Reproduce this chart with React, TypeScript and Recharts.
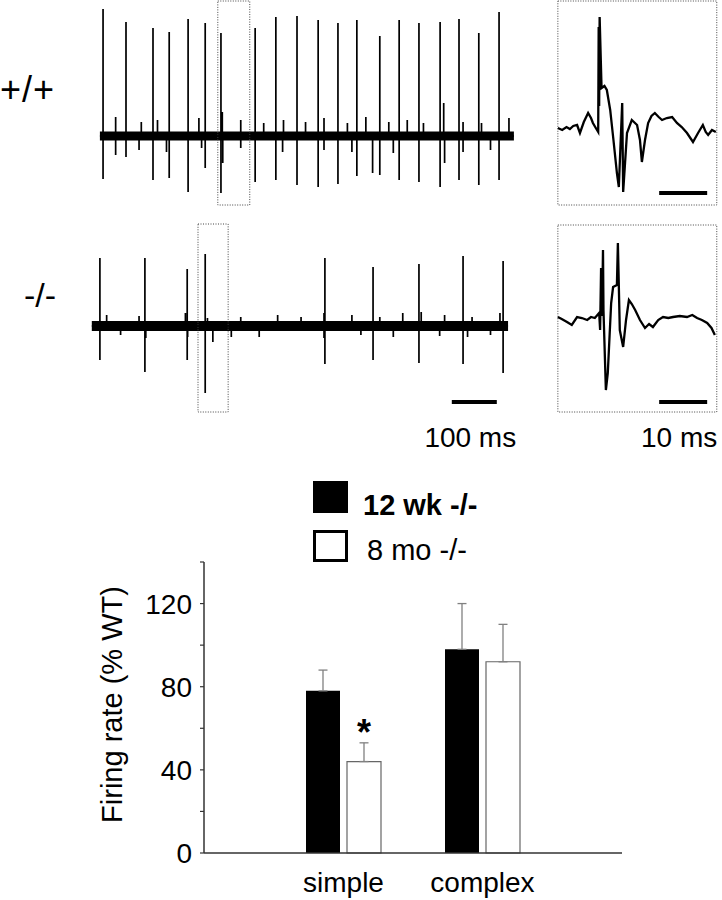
import React from "react";
import {
  ComposedChart,
  BarChart,
  Bar,
  Line,
  Area,
  XAxis,
  YAxis,
  ErrorBar,
  LabelList,
  Legend,
  ReferenceArea,
  ReferenceLine,
} from "recharts";

const FONT = '"Liberation Sans", Arial, Helvetica, sans-serif';

// ---- recordings (t in ms, amplitude in arbitrary units, baseline = 0) ----
// spike trains: [t, up, down]
const wtSpikes: number[][] = [
  [29, 127, 43], [80, 114, 21], [140, 108, 44], [176, 104, 42], [218, 117, 56],
  [256, 113, 32], [291, 103, 57], [367, 108, 46], [413, 119, 44], [460, 120, 49],
  [507, 116, 51], [551, 113, 48], [593, 116, 40], [644, 100, 39], [687, 116, 44],
  [731, 113, 46], [778, 114, 51], [820, 117, 44], [864, 103, 49], [909, 124, 44],
];
const wtNoiseUp: number[][] = [
  [57, 19], [114, 14], [150, 16], [242, 18], [294, 24], [335, 16], [386, 13],
  [430, 16], [479, 14], [520, 18], [572, 13], [613, 19], [664, 14], [705, 16],
  [741, 13], [786, 33], [829, 14], [870, 13], [931, 18],
];
const wtNoiseDown: number[][] = [
  [57, 19], [109, 14], [170, 16], [248, 12], [295, 27], [335, 12], [428, 16],
  [520, 14], [582, 16], [628, 37], [674, 17], [788, 27], [829, 16], [890, 14],
];
const wtRange = [22, 942];

const koSpikes: number[][] = [
  [22, 68, 34], [122, 68, 46], [216, 57, 34], [256, 72, 67], [522, 68, 38],
  [629, 59, 34], [731, 62, 37], [829, 70, 38], [918, 65, 47],
];
const koNoiseUp: number[][] = [
  [37, 11], [109, 10], [212, 13], [261, 8], [335, 9], [417, 11], [469, 9],
  [520, 13], [582, 11], [644, 9], [695, 13], [736, 14], [788, 11], [849, 9], [911, 13],
];
const koNoiseDown: number[][] = [
  [68, 9], [124, 12], [217, 11], [273, 16], [314, 11], [376, 11], [520, 12],
  [602, 9], [674, 11], [777, 10], [839, 11], [890, 9],
];
const koRange = [4, 929];

// single spike waveforms: [t, v]
const wtWave: number[][] = [
  [0.6, 8], [1.5, 6], [2.4, 9], [3.1, 7], [3.8, 10], [4.6, 11], [5.2, 3],
  [6.0, 14], [6.9, 23], [7.5, 18], [7.9, 13], [8.5, 8], [9.0, 4],
  [9.1, 109], [9.2, 30], [9.3, 119], [9.7, 48], [10.3, 50], [10.8, 46], [11.5, 26],
  [12.2, -5], [12.9, -37], [13.3, -51], [14.0, 33], [14.2, -56], [15.0, 3], [16.0, 16],
  [17.1, 11], [17.7, -4], [18.1, -26], [18.75, -4], [19.4, 13], [20.1, 20], [20.8, 23],
  [21.6, 19], [22.3, 16], [23.3, 18], [24.4, 19], [25.4, 13], [26.4, 9], [27.5, 3],
  [28.75, -6], [29.8, 3], [30.8, 11], [31.4, 4], [31.9, 1], [32.7, 6], [33.5, 4],
];
const koWave: number[][] = [
  [0.6, 9], [1.4, 7], [2.5, 4], [3.5, 1], [4.6, 9], [5.6, 8], [6.7, 6], [7.5, 9],
  [8.3, 8], [9.2, 13], [9.4, -4], [9.6, 58], [9.8, 10], [10.0, 76], [10.1, 16],
  [10.6, -64], [11.0, -47], [11.7, 23], [12.1, 39], [12.9, 41], [13.1, 83],
  [13.5, -4], [14.2, -21], [14.8, 6], [15.4, 26], [16.0, 22], [16.7, 16], [17.7, 6],
  [18.75, -2], [19.6, 2], [20.4, -1], [21.5, 6], [22.5, 9], [23.6, 8], [24.6, 9],
  [26.0, 10], [27.5, 9], [28.6, 11], [29.6, 8], [30.6, 6], [31.7, 3], [32.6, -2], [33.3, -9],
];

// ---- summary bars ----
const categories = ["simple", "complex"];
const young = [78, 98]; // 12 wk -/-
const youngErr = [10, 22];
const old = [44, 92]; // 8 mo -/-
const oldErr = [9, 18];
const sig = ["*", ""];
const yTicks = [0, 20, 40, 60, 80, 100, 120, 140];

const barData = categories.map((c, i) => ({
  cat: c,
  young: young[i],
  old: old[i],
  youngErr: [0, youngErr[i]],
  oldErr: [0, oldErr[i]],
  sig: sig[i],
}));

function buildTrace(range: number[], spikes: number[][], up: number[][], down: number[][]) {
  const ev = [
    ...spikes.map(([t, u, d]) => [t, u, d]),
    ...up.map(([t, u]) => [t, u, 0]),
    ...down.map(([t, d]) => [t, 0, d]),
  ].sort((a, b) => a[0] - b[0]);
  const pts: { t: number; v: number }[] = [{ t: range[0], v: 0 }];
  ev.forEach(([t, u, d]) => {
    pts.push({ t, v: 0 }, { t, v: u }, { t, v: -d }, { t, v: 0 });
  });
  pts.push({ t: range[1], v: 0 });
  return pts;
}

const toPts = (arr: number[][]) => arr.map(([t, v]) => ({ t, v }));

const dotted = { fill: "none", stroke: "#444", strokeWidth: 1, strokeDasharray: "1 1.5" };

function ScaleText(props: any) {
  const { viewBox, text } = props;
  if (!viewBox) return null;
  return (
    <text
      x={viewBox.x + viewBox.width / 2 - 4}
      y={viewBox.y + 45}
      textAnchor="middle"
      fontSize={28}
      fontFamily={FONT}
      fill="#000"
    >
      {text}
    </text>
  );
}

interface TraceProps {
  top: number;
  height: number;
  band: number;
  yDomain: number[];
  range: number[];
  spikes: number[][];
  up: number[][];
  down: number[][];
  box: number[];
  scaleBar?: number[];
}

function Trace({ top, height, band, yDomain, range, spikes, up, down, box, scaleBar }: TraceProps) {
  const pts = buildTrace(range, spikes, up, down);
  const bandData = [
    { t: range[0], band: [-band, band] },
    { t: range[1], band: [-band, band] },
  ];
  return (
    <div style={{ position: "absolute", left: 0, top }}>
      <ComposedChart width={545} height={height} margin={{ top: 0, right: 0, bottom: 0, left: 0 }}>
        <XAxis type="number" dataKey="t" domain={[-200, 1011.1]} hide allowDataOverflow />
        <YAxis type="number" domain={yDomain} hide allowDataOverflow />
        <Area
          data={bandData}
          dataKey="band"
          fill="#000"
          fillOpacity={1}
          stroke="none"
          dot={false}
          activeDot={false}
          isAnimationActive={false}
        />
        <Line
          data={pts}
          dataKey="v"
          type="linear"
          stroke="#000"
          strokeWidth={1.7}
          dot={false}
          activeDot={false}
          isAnimationActive={false}
        />
        <ReferenceArea x1={box[0]} x2={box[1]} y1={box[2]} y2={box[3]} ifOverflow="visible" {...dotted} />
        {scaleBar && (
          <ReferenceLine
            segment={[
              { x: scaleBar[0], y: scaleBar[2] },
              { x: scaleBar[1], y: scaleBar[2] },
            ]}
            stroke="#000"
            strokeWidth={4}
            label={<ScaleText text="100 ms" />}
          />
        )}
      </ComposedChart>
    </div>
  );
}

function Wave({ top, height, yDomain, wave, box, bar, label }: any) {
  return (
    <div style={{ position: "absolute", left: 550, top }}>
      <ComposedChart width={172} height={height} margin={{ top: 0, right: 0, bottom: 0, left: 0 }}>
        <XAxis type="number" dataKey="t" domain={[-1.04, 34.79]} hide allowDataOverflow />
        <YAxis type="number" domain={yDomain} hide allowDataOverflow />
        <Line
          data={toPts(wave)}
          dataKey="v"
          type="linear"
          stroke="#000"
          strokeWidth={2.3}
          dot={false}
          activeDot={false}
          isAnimationActive={false}
        />
        <ReferenceArea x1={box[0]} x2={box[1]} y1={box[2]} y2={box[3]} ifOverflow="visible" {...dotted} />
        <ReferenceLine
          segment={[
            { x: bar[0], y: bar[2] },
            { x: bar[1], y: bar[2] },
          ]}
          stroke="#000"
          strokeWidth={4}
          label={label ? <ScaleText text={label} /> : undefined}
        />
      </ComposedChart>
    </div>
  );
}

function YTick(props: any) {
  const { x, y, payload } = props;
  if (payload.value % 40 !== 0) return null;
  return (
    <text x={x} y={y} dy="0.36em" textAnchor="end" fontSize={28} fontFamily={FONT} fill="#000">
      {payload.value}
    </text>
  );
}

function Star(props: any) {
  const { x, y, width, height, value, index } = props;
  if (!value) return null;
  const errTop = y - (oldErr[index] * height) / old[index];
  return (
    <text x={x + width / 2} y={errTop + 2} textAnchor="middle" fontSize={36} fontWeight="bold" fontFamily={FONT} fill="#000">
      {value}
    </text>
  );
}

function LegendBox() {
  return (
    <svg width={230} height={90} style={{ display: "block" }}>
      <rect x={1} y={1} width={35} height={32} fill="#000" />
      <text x={51} y={35} fontSize={29} fontWeight="bold" fontFamily={FONT} fill="#000">
        12 wk -/-
      </text>
      <rect x={2.5} y={51.5} width={32} height={29} fill="#fff" stroke="#000" strokeWidth={3} />
      <text x={55} y={80} fontSize={29} fontFamily={FONT} fill="#000">
        8 mo -/-
      </text>
    </svg>
  );
}

function YLabel(props: any) {
  const { viewBox } = props;
  const cx = 122;
  const cy = viewBox.y + viewBox.height / 2 - 3;
  return (
    <text
      x={cx}
      y={cy}
      transform={`rotate(-90, ${cx}, ${cy})`}
      textAnchor="middle"
      fontSize={29}
      fontFamily={FONT}
      fill="#000"
    >
      Firing rate (% WT)
    </text>
  );
}

export default function App() {
  return (
    <div
      style={{
        position: "absolute",
        left: 0,
        top: 0,
        width: 722,
        height: 900,
        background: "#fff",
        fontFamily: FONT,
        overflow: "hidden",
      }}
    >
      <svg width={90} height={400} style={{ position: "absolute", left: 0, top: 0 }}>
        <text x={0} y={102} fontSize={36} letterSpacing={1} fontFamily={FONT} fill="#000">
          +/+
        </text>
        <text x={24} y={307} fontSize={34} fontFamily={FONT} fill="#000">
          -/-
        </text>
      </svg>

      <Trace
        top={-5}
        height={215}
        band={4.5}
        yDomain={[-74, 141]}
        range={wtRange}
        spikes={wtSpikes}
        up={wtNoiseUp}
        down={wtNoiseDown}
        box={[284, 355, -69, 135]}
      />
      <Trace
        top={215}
        height={240}
        band={5}
        yDomain={[-129, 111]}
        range={koRange}
        spikes={koSpikes}
        up={koNoiseUp}
        down={koNoiseDown}
        box={[240, 307, -86, 102]}
        scaleBar={[804, 904, -76]}
      />
      <Wave top={-5} height={215} yDomain={[-74, 141]} wave={wtWave} box={[0.6, 33.7, -69, 135]} bar={[21.7, 31.7, -57]} />
      <Wave
        top={215}
        height={240}
        yDomain={[-129, 111]}
        wave={koWave}
        box={[0.6, 33.7, -86, 101]}
        bar={[21.7, 31.7, -76]}
        label="10 ms"
      />

      <div style={{ position: "absolute", left: 0, top: 460 }}>
        <BarChart
          width={722}
          height={440}
          data={barData}
          barGap={7}
          margin={{ top: 102, right: 100, bottom: 7, left: 144 }}
        >
          <XAxis
            dataKey="cat"
            padding={{ left: 70, right: 70 }}
            tickLine={false}
            tickSize={0}
            tickMargin={19}
            height={40}
            axisLine={{ stroke: "#333", strokeWidth: 1.5 }}
            tick={{ fontSize: 28, fill: "#000", fontFamily: FONT }}
          />
          <YAxis
            width={60}
            domain={[0, 140]}
            ticks={yTicks}
            interval={0}
            tickSize={4}
            tickMargin={8}
            axisLine={{ stroke: "#333", strokeWidth: 1.5 }}
            tickLine={{ stroke: "#333", strokeWidth: 1.2 }}
            tick={<YTick />}
            label={<YLabel />}
          />
          <Legend
            layout="vertical"
            align="center"
            verticalAlign="middle"
            wrapperStyle={{ left: 312, top: 20, width: 230, height: 90 }}
            content={() => <LegendBox />}
          />
          <Bar dataKey="young" name="12 wk -/-" fill="#000" barSize={34} isAnimationActive={false}>
            <ErrorBar dataKey="youngErr" width={4.5} stroke="#808080" strokeWidth={1.3} direction="y" />
          </Bar>
          <Bar dataKey="old" name="8 mo -/-" fill="#fff" stroke="#666" strokeWidth={1.2} barSize={34} isAnimationActive={false}>
            <ErrorBar dataKey="oldErr" width={4.5} stroke="#808080" strokeWidth={1.3} direction="y" />
            <LabelList dataKey="sig" content={<Star />} />
          </Bar>
        </BarChart>
      </div>
    </div>
  );
}
